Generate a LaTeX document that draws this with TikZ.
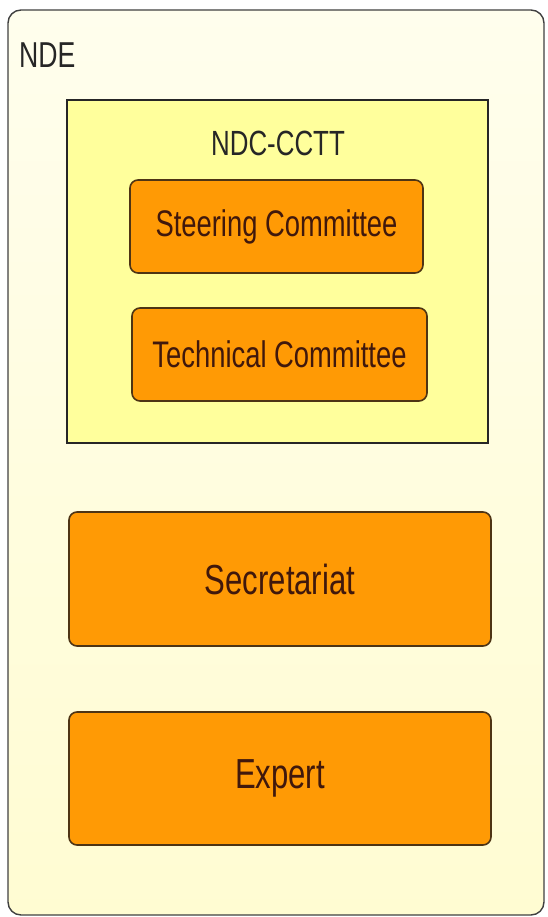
\documentclass[tikz,border=0pt]{standalone}
\usepackage{graphicx}
\usepackage{fontspec}
\setmainfont{Liberation Sans}
\usetikzlibrary{positioning}
\definecolor{ndeback}{HTML}{FFFCD2}
\definecolor{ndctop}{HTML}{FFFF9C}
\definecolor{unitfill}{HTML}{FF9A05}
\definecolor{unitline}{HTML}{4E3414}
\definecolor{unittext}{HTML}{40180C}
\newcommand{\narrow}[1]{\scalebox{0.74}[1]{#1}}
\tikzset{
    unitbox/.style={draw=unitline, line width=1.6pt, fill=unitfill,
        rounded corners=8pt, text=unittext},
}

\begin{document}
\begin{tikzpicture}[x=1pt, y=-1pt]
            \useasboundingbox (0,0) rectangle (547,917);
            % outer frame and its label
            \node[draw=black!75, line width=1.4pt, rounded corners=13pt,
                top color=white!60!ndeback, bottom color=ndeback,
                minimum width=536pt, minimum height=905pt] (nde) at (276,462.5) {};
            \node[anchor=west, font=\fontsize{36}{36}\selectfont, text=black!85, inner sep=0pt] (ndelabel) at (19,55) {\narrow{NDE}};
            % NDC-CCTT group
            \node[draw=black!85, line width=1.8pt, fill=ndctop,
                minimum width=421pt, minimum height=343pt] (ndc) at (277.5,271.5) {};
            \node[font=\fontsize{35}{35}\selectfont, text=black!85, inner sep=0pt] (ndclabel) at (278,143) {\narrow{NDC-CCTT}};
            \node[unitbox, minimum width=293pt, minimum height=93pt,
                font=\fontsize{37}{37}\selectfont] (steer) at (276.5,226.5) {\narrow{Steering Committee}};
            \node[unitbox, minimum width=295pt, minimum height=93pt,
                font=\fontsize{37}{37}\selectfont] (tech) at (279.5,354.5) {\narrow{Technical Committee}};
            % lower units
            \node[unitbox, minimum width=422pt, minimum height=134pt,
                font=\fontsize{42}{42}\selectfont] (secr) at (280,579) {\narrow{Secretariat}};
            \node[unitbox, minimum width=422pt, minimum height=133pt,
                font=\fontsize{42}{42}\selectfont] (expert) at (280,778.5) {\narrow{Expert}};
        \end{tikzpicture}
\end{document}
